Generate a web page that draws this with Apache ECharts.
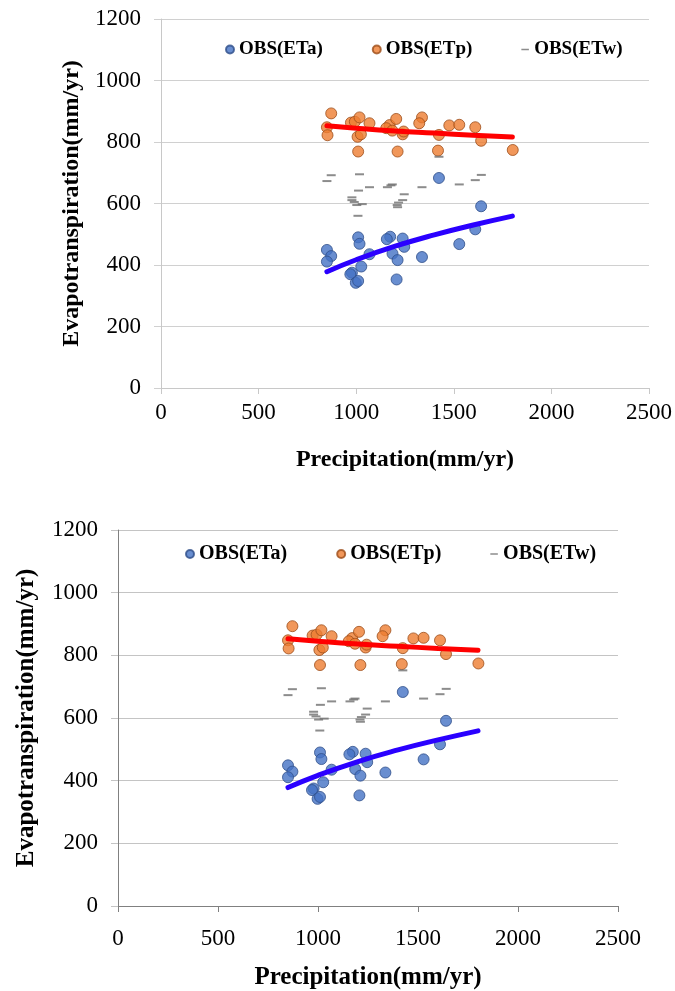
<!DOCTYPE html>
<html>
<head>
<meta charset="utf-8">
<script src="https://cdn.jsdelivr.net/npm/echarts@6/dist/echarts.min.js"></script>
<style>
html,body{margin:0;padding:0;background:#fff;}
#c{width:675px;height:991px;}
</style>
</head>
<body>
<div id="c"></div>
<script>
// ---- data ----
const etaP = [1424,1640,1610,1528,1337,1010,1017,850,872,850,1068,1026,978,970,998,1010,1174,1157,1238,1246,1186,1212,1207];
const etaV = [683,591,516,468,426,490,469,449,429,411,435,395,375,370,342,348,492,484,486,459,437,416,353];
const etpP = [872,850,853,973,993,1017,1007,1024,1010,1068,1171,1154,1205,1185,1238,1243,1212,1337,1323,1424,1419,1477,1528,1610,1640,1802];
const etpV = [893,848,822,863,866,880,817,825,769,861,855,845,875,837,825,834,769,880,861,823,772,854,856,848,804,774];
const etwP = [850,872,1017,1012,1068,1160,1178,1185,978,978,990,1031,1003,1009,1246,1238,1217,1210,1212,1337,1424,1528,1610,1641];
const etwV = [673,692,695,642,653,653,659,662,620,611,605,598,595,560,630,611,603,595,588,653,752,662,676,693];
const trendP = [850,1000,1200,1400,1600,1800];
const etaTrend = [378,417,461,498,530,559];
const etpTrend = [853,845,836,829,822,816];
const seriesNames = ['OBS(ETa)','OBS(ETp)','OBS(ETw)'];
const xTitle = 'Precipitation(mm/yr)';
const yTitle = 'Evapotranspiration(mm/yr)';

const pairs = (xs, ys) => xs.map((x,i) => [x, ys[i]]);
const FONT = '"Liberation Serif","Times New Roman",serif';
const plain = v => String(v);

function axesFor(idx, cfg){
  return {
    x: {
      type:'value', gridIndex: idx, min:0, max:2500, interval:500,
      name: xTitle, nameLocation:'middle', nameGap: cfg.xNameGap,
      nameTextStyle:{fontFamily:FONT, fontWeight:'bold', fontSize:cfg.titleSize, color:'#000'},
      axisLine:{show:true, onZero:false, lineStyle:{color:cfg.axisColor, width:1}},
      axisTick:{show:true, length:6, lineStyle:{color:cfg.axisColor}},
      axisLabel:{fontFamily:FONT, fontSize:cfg.labelSize, color:'#000', margin:cfg.xLabelMargin, formatter:plain},
      splitLine:{show:false}
    },
    y: {
      type:'value', gridIndex: idx, min:0, max:1200, interval:200,
      name: yTitle, nameLocation:'middle', nameGap: cfg.yNameGap, nameRotate:90,
      nameTextStyle:{fontFamily:FONT, fontWeight:'bold', fontSize:cfg.titleSize, color:'#000'},
      axisLine:{show:true, lineStyle:{color:cfg.axisColor, width:1}},
      axisTick:{show:true, length:7, lineStyle:{color:cfg.gridColor}},
      axisLabel:{fontFamily:FONT, fontSize:cfg.labelSize, color:'#000', margin:cfg.yLabelMargin, formatter:plain},
      splitLine:{show:true, lineStyle:{color:cfg.gridColor, width:1}}
    }
  };
}

const cfgTop = {xNameGap:60, yNameGap:72, titleSize:24, labelSize:23, axisColor:'#c8c8c8', gridColor:'#d0d0d0', xLabelMargin:13, yLabelMargin:20};
const cfgBot = {xNameGap:59, yNameGap:79, titleSize:25, labelSize:23, axisColor:'#808080', gridColor:'#c4c4c4', xLabelMargin:21, yLabelMargin:20};
const a0 = axesFor(0, cfgTop), a1 = axesFor(1, cfgBot);

function seriesFor(idx){
  return [
    {name:seriesNames[0], type:'scatter', xAxisIndex:idx, yAxisIndex:idx, data:pairs(etaP,etaV),
     symbol:'circle', symbolSize:11, itemStyle:{color:'#4472C4', borderColor:'#2F4F8A', borderWidth:1}, z:3},
    {name:seriesNames[1], type:'scatter', xAxisIndex:idx, yAxisIndex:idx, data:pairs(etpP,etpV),
     symbol:'circle', symbolSize:11, itemStyle:{color:'#ED7D31', borderColor:'#9C4E1A', borderWidth:1}, z:3},
    {name:seriesNames[2], type:'scatter', xAxisIndex:idx, yAxisIndex:idx, data:pairs(etwP,etwV),
     symbol:'rect', symbolSize:[9,2], itemStyle:{color:'#6f6f6f'}, z:3},
    {name:'ETa trend', type:'line', xAxisIndex:idx, yAxisIndex:idx, data:pairs(trendP,etaTrend),
     smooth:true, showSymbol:false, lineStyle:{color:'#2a00ff', width:5, cap:'round'}, z:5, silent:true},
    {name:'ETp trend', type:'line', xAxisIndex:idx, yAxisIndex:idx, data:pairs(trendP,etpTrend),
     smooth:true, showSymbol:false, lineStyle:{color:'#ff0000', width:5, cap:'round'}, z:5, silent:true}
  ];
}

function legendFor(left, top, size, gap){
  return {
    left:left, top:top, itemWidth:8, itemHeight:8, itemGap:gap,
    textStyle:{fontFamily:FONT, fontWeight:'bold', fontSize:size, color:'#000'},
    data:[
      {name:seriesNames[0], icon:'circle'},
      {name:seriesNames[1], icon:'circle'},
      {name:seriesNames[2], icon:'path://M0,0L0.01,0M0,3.5H8V5H0ZM8,8.5L8.01,8.5'}
    ],
    selectedMode:false
  };
}

const chart = echarts.init(document.getElementById('c'), null, {renderer:'canvas'});
chart.setOption({
  animation:false,
  backgroundColor:'#fff',
  grid:[
    {left:161, top:19, width:488, height:369},
    {left:118, top:530, width:500, height:377}
  ],
  legend:[legendFor(220, 35, 19, 49), legendFor(180, 539, 20, 49)],
  xAxis:[a0.x, a1.x],
  yAxis:[a0.y, a1.y],
  series:[...seriesFor(0), ...seriesFor(1)]
});
</script>
</body>
</html>
